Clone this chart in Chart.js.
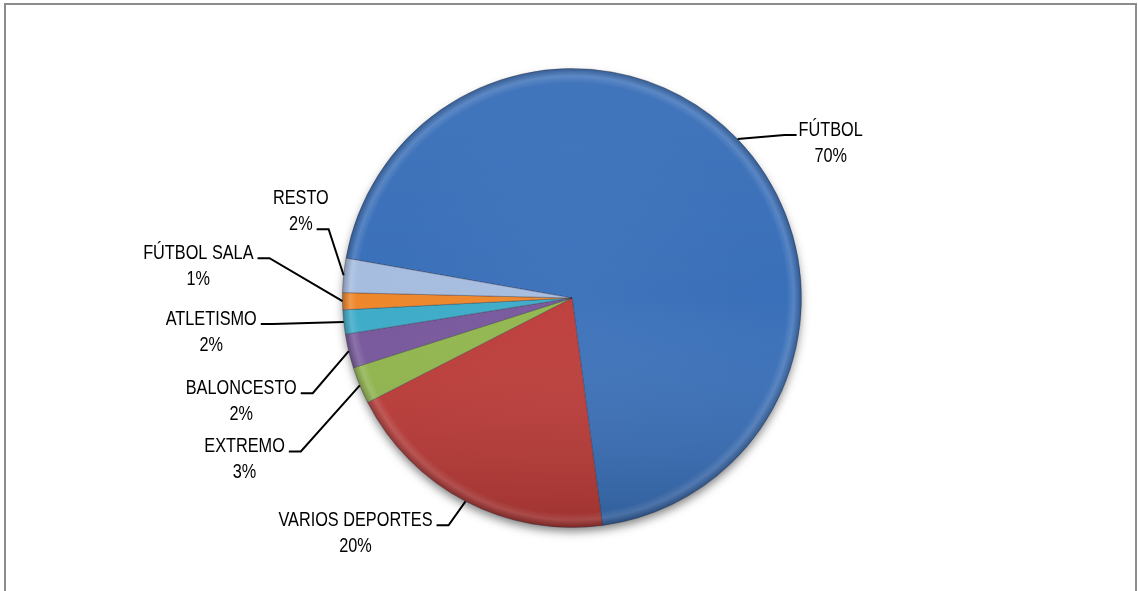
<!DOCTYPE html>
<html>
<head>
<meta charset="utf-8">
<script src="https://cdn.jsdelivr.net/npm/chart.js@4.4.1/dist/chart.umd.min.js"></script>
<style>
  html, body { margin: 0; padding: 0; background: #fff; }
  #wrap { position: relative; width: 1138px; height: 591px; overflow: hidden; }
  #frame { position: absolute; left: 4px; top: 3px; width: 1133px; height: 620px;
           border: 2px solid #8c8c8c; pointer-events: none; box-sizing: border-box; }
  canvas { position: absolute; left: 0; top: 0; }
</style>
</head>
<body>
<div id="wrap">
  <canvas id="c" width="1138" height="591"></canvas>
  <div id="frame"></div>
</div>
<script>
// ---- data ----
const categories = ['FÚTBOL', 'VARIOS DEPORTES', 'EXTREMO', 'BALONCESTO', 'ATLETISMO', 'FÚTBOL SALA', 'RESTO'];
const values = [70.1, 19.6, 2.6, 2.4, 1.7, 1.2, 2.4];
const sliceColors = ['#3A70B9', '#BC3B38', '#91B64D', '#77579B', '#3DABC8', '#EE872C', '#A6BDE0'];

// ---- label layout (leader end offset from slice anchor, which text line the leader attaches to, side) ----
const labelLayout = [
  { dx: 59,  dy: -4,  line: 0, side: 'right' },
  { dx: -29, dy: 24,  line: 0, side: 'left' },
  { dx: -71, dy: 66,  line: 0, side: 'left' },
  { dx: -48, dy: 42,  line: 0, side: 'left' },
  { dx: -83, dy: 2,   line: 0, side: 'left' },
  { dx: -85, dy: -43, line: 0, side: 'left' },
  { dx: -27, dy: -46, line: 1, side: 'left' }
];

const total = values.reduce((a, b) => a + b, 0);
const pctLabels = values.map(v => Math.round(v / total * 100) + '%');

function shade(hex, amt) {
  const n = parseInt(hex.slice(1), 16);
  let r = (n >> 16) & 255, g = (n >> 8) & 255, b = n & 255;
  if (amt >= 0) { r += (255 - r) * amt; g += (255 - g) * amt; b += (255 - b) * amt; }
  else { r *= (1 + amt); g *= (1 + amt); b *= (1 + amt); }
  return 'rgb(' + Math.round(r) + ',' + Math.round(g) + ',' + Math.round(b) + ')';
}

function pieGeom(chart) {
  const a = chart.chartArea;
  const meta = chart.getDatasetMeta(0);
  const el = meta.data[0];
  const r = el ? el.outerRadius : Math.min(a.right - a.left, a.bottom - a.top) / 2;
  return { cx: (a.left + a.right) / 2, cy: (a.top + a.bottom) / 2, r: r };
}

// condensed-looking text: regular sans, horizontally squeezed
const fontFamily = "'Liberation Sans', Arial, sans-serif";
const fontSize = 19.5;
let textScaleX = 0.82;
(function fitFont() {
  const t = document.createElement('canvas').getContext('2d');
  t.font = fontSize + 'px ' + fontFamily;
  const w = t.measureText('BALONCESTO').width;
  textScaleX = 111 / w;
})();

const shadowPlugin = {
  id: 'pieShadow',
  beforeDatasetsDraw(chart) {
    const g = pieGeom(chart);
    const ctx = chart.ctx;
    ctx.save();
    ctx.shadowColor = 'rgba(0,0,0,0.5)';
    ctx.shadowBlur = 10;
    ctx.shadowOffsetY = 5;
    ctx.fillStyle = '#ffffff';
    ctx.beginPath();
    ctx.arc(g.cx, g.cy, g.r - 1, 0, Math.PI * 2);
    ctx.fill();
    ctx.restore();
  },
  afterDatasetsDraw(chart) {
    const g = pieGeom(chart);
    const ctx = chart.ctx;
    ctx.save();
    ctx.beginPath();
    ctx.arc(g.cx, g.cy, g.r, 0, Math.PI * 2);
    ctx.clip();
    const lg = ctx.createLinearGradient(0, g.cy - g.r, 0, g.cy + g.r);
    lg.addColorStop(0, 'rgba(255,255,255,0.04)');
    lg.addColorStop(0.5, 'rgba(255,255,255,0)');
    lg.addColorStop(1, 'rgba(0,0,0,0.16)');
    ctx.fillStyle = lg;
    ctx.fillRect(g.cx - g.r, g.cy - g.r, g.r * 2, g.r * 2);
    ctx.restore();
  }
};

const labelPlugin = {
  id: 'leaderLabels',
  afterDraw(chart) {
    const ctx = chart.ctx;
    const meta = chart.getDatasetMeta(0);
    const lineH = 26;
    ctx.save();
    ctx.font = fontSize + 'px ' + fontFamily;
    ctx.fillStyle = '#000';
    ctx.strokeStyle = '#000';
    ctx.lineWidth = 2;
    ctx.textBaseline = 'alphabetic';
    ctx.textAlign = 'center';
    meta.data.forEach((arc, i) => {
      const p = arc.getProps(['x', 'y', 'startAngle', 'endAngle', 'outerRadius'], true);
      const mid = (p.startAngle + p.endAngle) / 2;
      const ax = p.x + Math.cos(mid) * p.outerRadius;
      const ay = p.y + Math.sin(mid) * p.outerRadius;
      const L = labelLayout[i];
      const ex = ax + L.dx, ey = ay + L.dy;
      const dir = L.side === 'left' ? 1 : -1; // elbow toward the pie
      const bx = ex + dir * 12;
      ctx.beginPath();
      ctx.moveTo(ax, ay);
      ctx.lineTo(bx, ey);
      ctx.lineTo(ex, ey);
      ctx.stroke();
      const lines = [categories[i], pctLabels[i]];
      const wAttach = ctx.measureText(lines[L.line]).width * textScaleX;
      let centerX;
      if (L.side === 'left') centerX = ex - 4 - wAttach / 2;
      else centerX = ex + 2 + wAttach / 2;
      const baseAttach = ey + 0.5;
      lines.forEach((t, k) => {
        ctx.save();
        ctx.translate(centerX, baseAttach + (k - L.line) * lineH);
        ctx.scale(textScaleX, 1);
        ctx.fillText(t, 0, 0);
        ctx.restore();
      });
    });
    ctx.restore();
  }
};

new Chart(document.getElementById('c'), {
  type: 'pie',
  data: {
    labels: categories,
    datasets: [{
      data: values,
      backgroundColor: (context) => {
        const chart = context.chart;
        const base = sliceColors[context.dataIndex];
        if (!chart.chartArea) return base;
        const a = chart.chartArea;
        const cx = (a.left + a.right) / 2, cy = (a.top + a.bottom) / 2;
        const r = Math.min(a.right - a.left, a.bottom - a.top) / 2;
        const gr = chart.ctx.createRadialGradient(cx, cy, 0, cx, cy, r);
        gr.addColorStop(0, shade(base, 0.03));
        gr.addColorStop(0.85, base);
        gr.addColorStop(0.935, base);
        gr.addColorStop(0.965, shade(base, 0.14));
        gr.addColorStop(1, shade(base, -0.25));
        return gr;
      },
      borderColor: 'rgba(40,40,60,0.35)',
      borderWidth: 1
    }]
  },
  options: {
    responsive: false,
    animation: false,
    rotation: -80,
    layout: { padding: { left: 10, right: 4, top: 68, bottom: 63 } },
    plugins: {
      legend: { display: false },
      tooltip: { enabled: false },
      title: { display: false }
    }
  },
  plugins: [shadowPlugin, labelPlugin]
});
</script>
</body>
</html>
